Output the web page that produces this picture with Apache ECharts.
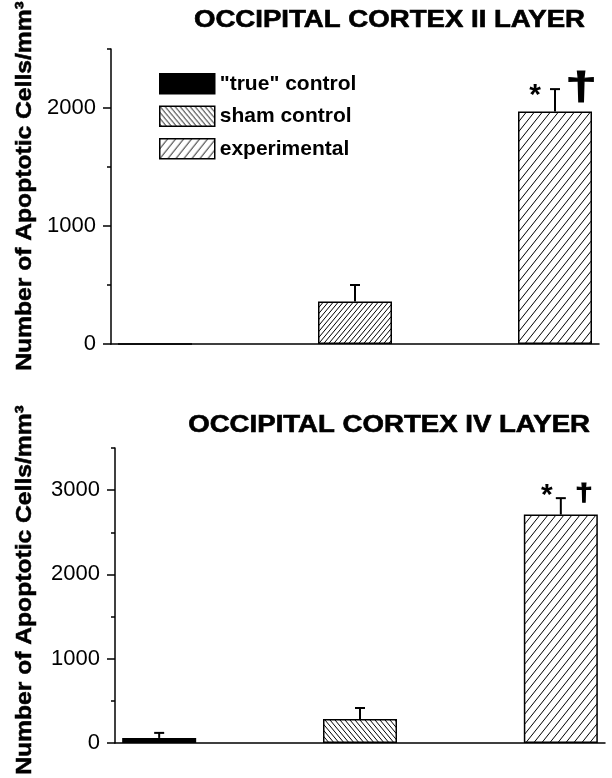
<!DOCTYPE html>
<html>
<head>
<meta charset="utf-8">
<script src="https://cdn.jsdelivr.net/npm/echarts@6/dist/echarts.min.js"></script>
<style>
  html, body { margin: 0; padding: 0; background: #fff; }
  #chart { width: 612px; height: 778px; }
</style>
</head>
<body>
<div id="chart"></div>
<script>
// data
var groups = ['"true" control', 'sham control', 'experimental']
var groupPos = [1, 2, 3]
var layer2Mean = [0, 360, 1970]
var layer2Err = [0, 140, 190]
var layer4Mean = [60, 285, 2710]
var layer4Err = [60, 130, 195]
var layer2Sig = [false, false, true]
var layer4Sig = [false, false, true]
var layer2Max = 2500
var layer4Max = 3500
var layer2Major = [0, 1000, 2000]
var layer2Minor = [500, 1500, 2500]
var layer4Major = [0, 1000, 2000, 3000]
var layer4Minor = [500, 1500, 2500, 3500]
var titles = ['OCCIPITAL CORTEX II LAYER', 'OCCIPITAL CORTEX IV LAYER']
var yName = 'Number of Apoptotic Cells/mm³'
var sigMarks = ['*', '†']

var FONT = '"Liberation Sans", Arial, sans-serif'

// hatch tiles: dir 1 = '/', dir -1 = '\'
function hatch(w, h, dir) {
	var c = document.createElement('canvas')
	c.width = w
	c.height = h
	var g = c.getContext('2d')
	g.fillStyle = '#fff'
	g.fillRect(0, 0, w, h)
	g.strokeStyle = '#000'
	g.lineWidth = 1
	g.beginPath()
	for (var k = -1; k <= 1; k++) {
		if (dir > 0) {
			g.moveTo(k * w, h); g.lineTo(k * w + w, 0)
		} else {
			g.moveTo(k * w, 0); g.lineTo(k * w + w, h)
		}
	}
	g.stroke()
	return { image: c, repeat: 'repeat' }
}

var denseSlash = hatch(5, 6, 1)
var denseBack = hatch(5, 6, -1)
var sparseSlash = hatch(8, 10, 1)

var layer2Fill = ['#000', denseSlash, sparseSlash]
var layer4Fill = ['#000', denseBack, sparseSlash]
var legendFill = ['#000', denseBack, sparseSlash]

// where the * and † sit next to the error bar, per panel
var markStyle = [
	{ star: { dx: -20, dy: 7, size: 30 }, dagger: { dx: 26, dy: -1, size: 38, sx: 1.5 } },
	{ star: { dx: -14, dy: -2, size: 30 }, dagger: { dx: 23, dy: -4, size: 24, sx: 1.3 } }
]

var grids = [
	{ left: 111, top: 49, width: 488, height: 295 },
	{ left: 115, top: 448, width: 490, height: 295 }
]

function yAxes(gi, max, major, minor) {
	return [{
		gridIndex: gi, type: 'value', min: 0, max: max, position: 'left',
		axisLine: { show: true, lineStyle: { color: '#000', width: 1.5 } },
		axisTick: { show: true, inside: false, length: 8, customValues: major,
			lineStyle: { color: '#000', width: 1.5 } },
		axisLabel: { show: true, customValues: major, margin: 15,
			color: '#000', fontSize: 22, fontFamily: FONT,
			formatter: function(v) { return String(v) } },
		splitLine: { show: false }
	}, {
		gridIndex: gi, type: 'value', min: 0, max: max, position: 'left',
		axisLine: { show: false },
		axisTick: { show: true, inside: false, length: 4, customValues: minor,
			lineStyle: { color: '#000', width: 1.5 } },
		axisLabel: { show: false },
		splitLine: { show: false }
	}]
}

function xAxis(gi) {
	return {
		gridIndex: gi, type: 'value', min: 0.78, max: 3.22,
		axisLine: { show: true, onZero: false, lineStyle: { color: '#000', width: 1.5 } },
		axisTick: { show: false },
		axisLabel: { show: false },
		splitLine: { show: false }
	}
}

function barSeries(gi, mean, fill) {
	return groups.map(function(name, i) {
		return {
			name: name,
			type: 'bar',
			xAxisIndex: gi,
			yAxisIndex: gi * 2,
			barWidth: 74,
			barGap: '-100%',
			itemStyle: { color: fill[i], borderColor: '#000', borderWidth: 1.5 },
			data: [[groupPos[i], mean[i]]]
		}
	})
}

function errSeries(gi, mean, err, sig) {
	var ms = markStyle[gi]
	return {
		type: 'custom',
		xAxisIndex: gi,
		yAxisIndex: gi * 2,
		z: 5,
		data: groups.map(function(g, i) {
			return [groupPos[i], mean[i], err[i], sig[i] ? 1 : 0]
		}),
		renderItem: function(params, api) {
			var x = api.value(0), m = api.value(1), e = api.value(2)
			if (!e) return
			var p0 = api.coord([x, m])
			var p1 = api.coord([x, m + e])
			var line = { stroke: '#000', lineWidth: 2 }
			var kids = [
				{ type: 'line', shape: { x1: p0[0], y1: p0[1], x2: p1[0], y2: p1[1] }, style: line },
				{ type: 'line', shape: { x1: p1[0] - 5, y1: p1[1], x2: p1[0] + 5, y2: p1[1] }, style: line }
			]
			if (api.value(3)) {
				kids.push({
					type: 'text', x: p1[0] + ms.star.dx, y: p1[1] + ms.star.dy,
					style: { text: sigMarks[0], font: 'bold ' + ms.star.size + 'px ' + FONT,
						fill: '#000', align: 'center', verticalAlign: 'middle' }
				})
				kids.push({
					type: 'text', x: p1[0] + ms.dagger.dx, y: p1[1] + ms.dagger.dy, scaleX: ms.dagger.sx,
					style: { text: sigMarks[1], font: 'bold ' + ms.dagger.size + 'px ' + FONT,
						fill: '#000', stroke: '#000', lineWidth: 1,
						align: 'center', verticalAlign: 'middle' }
				})
			}
			return { type: 'group', children: kids }
		}
	}
}

function titleText(text, right, cy) {
	return {
		type: 'text', x: right, y: cy, scaleX: 1.2,
		style: { text: text, font: 'bold 23px ' + FONT, fill: '#000',
			stroke: '#000', lineWidth: 0.6,
			align: 'right', verticalAlign: 'middle' }
	}
}

function yNameText(cx, cy) {
	return {
		type: 'text', x: cx, y: cy, rotation: Math.PI / 2, scaleX: 1.12,
		style: { text: yName, font: 'bold 22px ' + FONT, fill: '#000',
			stroke: '#000', lineWidth: 0.5,
			align: 'center', verticalAlign: 'middle' }
	}
}

var chart = echarts.init(document.getElementById('chart'), null, { renderer: 'canvas' })

var option = {
	backgroundColor: '#fff',
	animation: false,
	grid: grids,
	xAxis: [xAxis(0), xAxis(1)],
	yAxis: yAxes(0, layer2Max, layer2Major, layer2Minor)
		.concat(yAxes(1, layer4Max, layer4Major, layer4Minor)),
	legend: {
		orient: 'vertical',
		left: 159,
		top: 73,
		padding: 0,
		itemWidth: 55,
		itemHeight: 20,
		itemGap: 11,
		icon: 'rect',
		selectedMode: false,
		itemStyle: { borderColor: '#000', borderWidth: 1.5 },
		textStyle: { color: '#000', fontSize: 21, fontWeight: 'bold', fontFamily: FONT },
		data: groups.map(function(g, i) {
			return { name: g, itemStyle: { color: legendFill[i] } }
		})
	},
	graphic: [
		titleText(titles[0], 585, 21),
		titleText(titles[1], 590, 426),
		yNameText(25, 186),
		yNameText(25, 590)
	],
	series: barSeries(0, layer2Mean, layer2Fill)
		.concat(barSeries(1, layer4Mean, layer4Fill))
		.concat([errSeries(0, layer2Mean, layer2Err, layer2Sig),
			errSeries(1, layer4Mean, layer4Err, layer4Sig)])
}

chart.setOption(option)
</script>
</body>
</html>
